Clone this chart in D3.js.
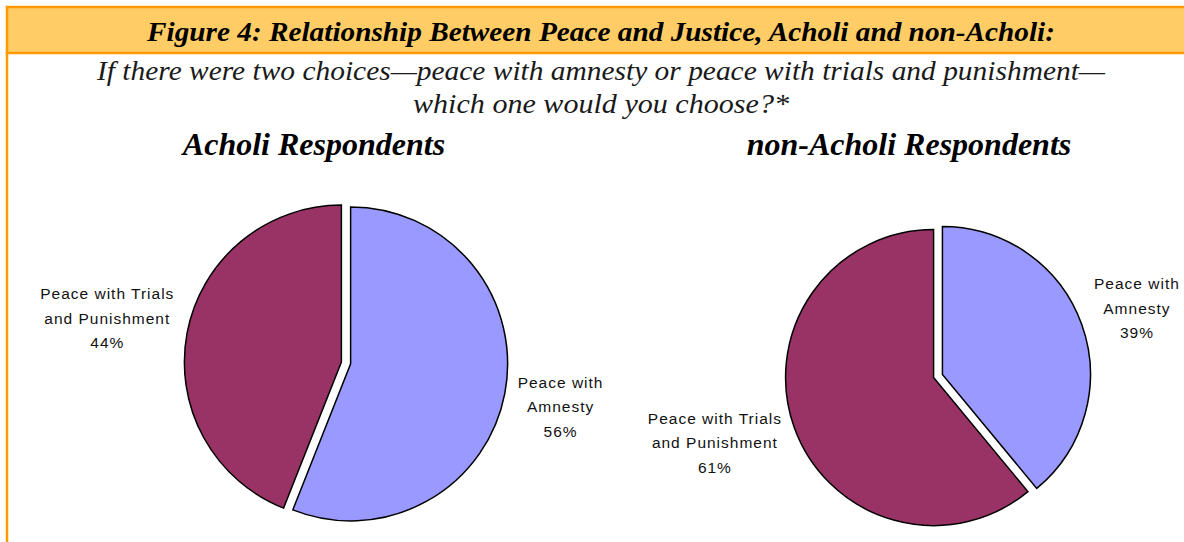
<!DOCTYPE html>
<html>
<head>
<meta charset="utf-8">
<script src="https://cdn.jsdelivr.net/npm/d3@7"></script>
<style>
	body { margin: 0; background: #fff; }
	svg { display: block; }
	.serif { font-family: 'Liberation Serif', 'Times New Roman', serif; }
	.lbl { font-family: 'Liberation Sans', Arial, sans-serif; font-size: 15.5px; letter-spacing: 1px; fill: #111; }
</style>
</head>
<body>
<svg id="chart" width="1184" height="542"></svg>
<script>
// data
const answers = ['Peace with Amnesty', 'Peace with Trials and Punishment'];
const answerLines = [['Peace with', 'Amnesty'], ['Peace with Trials', 'and Punishment']];
const acholiPct = [56, 44];
const nonAcholiPct = [39, 61];
const groupTitles = ['Acholi Respondents', 'non-Acholi Respondents'];
const figTitle = 'Figure 4: Relationship Between Peace and Justice, Acholi and non-Acholi:';
const question = ['If there were two choices\u2014peace with amnesty or peace with trials and punishment\u2014', 'which one would you choose?*'];

const svg = d3.select('#chart'),
	width = +svg.attr('width'),
	height = +svg.attr('height');

const color = d3.scaleOrdinal().domain(answers).range(['#9999FF', '#993366']);

// frame + title bar
svg.append('line')
	.attr('x1', 7).attr('x2', 7)
	.attr('y1', 52).attr('y2', height)
	.attr('stroke', '#FF9900').attr('stroke-width', 2.5);

svg.append('rect')
	.attr('x', 7).attr('y', 7)
	.attr('width', width + 20).attr('height', 46)
	.attr('fill', '#FFCC66')
	.attr('stroke', '#FF9900').attr('stroke-width', 2.5);

svg.append('text')
	.attr('class', 'serif')
	.attr('x', 601).attr('y', 41)
	.attr('text-anchor', 'middle')
	.attr('textLength', 908)
	.attr('lengthAdjust', 'spacingAndGlyphs')
	.style('font-size', '28px')
	.style('font-weight', 'bold')
	.style('font-style', 'italic')
	.text(figTitle);

// width of each line in the picture
const questionWidth = [1008, 376];
svg.selectAll('.question')
	.data(question)
	.enter()
	.append('text')
	.attr('class', 'serif question')
	.attr('x', 601)
	.attr('y', (d, i) => 80 + i * 33)
	.attr('text-anchor', 'middle')
	.attr('textLength', (d, i) => questionWidth[i])
	.attr('lengthAdjust', 'spacingAndGlyphs')
	.style('font-size', '27px')
	.style('font-style', 'italic')
	.attr('fill', '#1a1a1a')
	.text((d) => d);

// pies
const pies = [
	{ title: groupTitles[0], values: acholiPct, cx: 346, cy: 363, r: 157, titleX: 314 },
	{ title: groupTitles[1], values: nonAcholiPct, cx: 938, cy: 376, r: 148, titleX: 909 },
];

const pie = d3.pie().sort(null).value((d) => d.value);
const explode = 4.7;

pies.forEach((p) => {
	svg.append('text')
		.attr('class', 'serif')
		.attr('x', p.titleX).attr('y', 155)
		.attr('text-anchor', 'middle')
		.style('font-size', '32px')
		.style('font-weight', 'bold')
		.style('font-style', 'italic')
		.text(p.title);

	const arc = d3.arc().innerRadius(0).outerRadius(p.r);
	const rows = answers.map((a, i) => ({ name: a, lines: answerLines[i], value: p.values[i] }));

	const g = svg.append('g').attr('transform', 'translate(' + p.cx + ',' + p.cy + ')');

	const slices = g.selectAll('.slice')
		.data(pie(rows))
		.enter()
		.append('g')
		.attr('class', 'slice')
		.attr('transform', function (d) {
			const mid = (d.startAngle + d.endAngle) / 2;
			return 'translate(' + explode * Math.sin(mid) + ',' + (-explode * Math.cos(mid)) + ')';
		});

	slices.append('path')
		.attr('d', arc)
		.attr('fill', (d) => color(d.data.name))
		.attr('stroke', '#000')
		.attr('stroke-width', 1.5)
		.attr('stroke-linejoin', 'miter');

	// labels outside, like excel: box edge touches a point just past the rim
	slices.each(function (d) {
		const mid = (d.startAngle + d.endAngle) / 2;
		const lines = d.data.lines.concat([d.data.value + '%']);
		const t = d3.select(this).append('text')
			.attr('class', 'lbl')
			.attr('text-anchor', 'middle');
		lines.forEach((ln, i) => {
			t.append('tspan').attr('x', 0).attr('dy', i == 0 ? 0 : 24.5).text(ln);
		});
		const hw = t.node().getBBox().width / 2;
		const px = (p.r + 11) * Math.sin(mid), py = -(p.r + 11) * Math.cos(mid);
		const lx = px + Math.sign(px) * (hw + 2);
		const ly = py + Math.sign(py) * 12;
		t.attr('transform', 'translate(' + lx + ',' + (ly - 24.5 + 5) + ')');
	});
});
</script>
</body>
</html>
